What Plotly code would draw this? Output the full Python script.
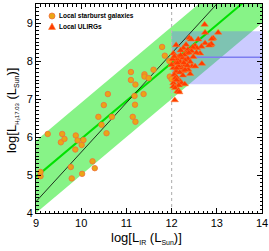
import plotly.graph_objects as go

# ---- data ----
sb_x = [9.10, 9.10, 9.26, 9.55, 9.58, 9.63, 9.77, 9.79, 9.87, 9.88, 9.92, 10.01, 10.02, 10.05,
        10.25, 10.30, 10.38, 10.45, 10.50, 10.56, 10.59, 10.68, 11.14, 11.20, 11.19, 11.18,
        11.38, 11.10, 11.20, 11.10, 11.40, 11.40, 11.49, 11.60, 11.79, 11.85, 11.95, 11.96, 12.00]
sb_y = [4.97, 5.08, 6.08, 5.86, 6.08, 5.95, 5.21, 4.91, 5.67, 6.04, 5.91, 5.79, 5.03, 5.92,
        5.36, 5.18, 6.53, 6.32, 6.84, 6.10, 7.13, 6.53, 6.53, 6.40, 6.85, 7.08,
        7.13, 7.50, 7.38, 7.71, 7.65, 7.59, 7.55, 7.77, 8.37, 8.14, 8.00, 7.59, 7.52]

ul_x = [12.73, 12.74, 13.03, 12.92, 12.39, 12.43, 12.59, 12.89, 12.74, 12.86, 12.88, 12.10,
        12.32, 12.52, 12.66, 12.83, 12.26, 12.56, 12.47, 12.36, 12.20, 12.44, 12.04, 12.33,
        12.38, 12.63, 12.55, 12.28, 12.15, 12.48, 12.24, 12.36, 12.12, 12.19, 12.41, 12.30,
        12.08, 12.67, 12.30, 12.45, 12.52, 12.04, 12.22, 12.15, 12.37, 12.10, 12.26, 12.11,
        12.30, 12.18, 12.41, 12.06, 12.25, 12.11, 12.08, 12.19, 12.04, 12.22, 12.29, 12.11,
        12.16, 12.04, 12.08, 12.15, 12.13, 12.17, 12.07, 12.02, 12.06, 12.00, 12.13, 12.20,
        12.27, 12.35]
ul_y = [8.96, 8.75, 8.75, 8.60, 8.61, 8.57, 8.57, 8.58, 8.47, 8.42, 8.45, 8.42,
        8.43, 8.40, 8.38, 8.41, 8.34, 8.34, 8.36, 8.30, 8.28, 8.26, 8.20, 8.20,
        8.22, 8.20, 8.22, 8.16, 8.11, 8.11, 8.08, 8.06, 8.04, 7.98, 7.98, 8.02,
        7.94, 7.93, 7.90, 7.86, 7.86, 7.82, 7.82, 7.87, 7.77, 7.73, 7.74, 7.81,
        7.77, 7.70, 7.66, 7.64, 7.62, 7.57, 7.55, 7.46, 7.42, 7.42, 7.39, 7.50,
        7.36, 7.33, 7.29, 7.23, 7.20, 7.18, 6.97, 8.05, 8.12, 7.90, 7.95, 8.15,
        7.95, 7.88]

band_x = [9.0, 14.0]
band_center = -4.05   # y = x + c
band_upper = -3.10
band_lower = -5.00
oneone_slope = 1.3
oneone_icpt = -7.4
ulirg_box_x = [12.0, 14.2]
ulirg_box_y = [7.39, 8.78]
ulirg_mean = 8.10
x_cut = 12.0

x_range = [9, 14]
y_range = [4, 9.5]
x_ticks = [9, 10, 11, 12, 13, 14]
y_ticks = [4, 5, 6, 7, 8, 9]

FONT = 'Liberation Sans, Arial'

fig = go.Figure()

# green band
bx = band_x + band_x[::-1]
by = [v + band_upper for v in band_x] + [v + band_lower for v in band_x[::-1]]
fig.add_trace(go.Scatter(x=bx, y=by, fill='toself', mode='lines', line=dict(width=0),
                         fillcolor='rgb(135,243,135)', hoverinfo='skip', showlegend=False))
# blue box
fig.add_trace(go.Scatter(x=[ulirg_box_x[0], ulirg_box_x[1], ulirg_box_x[1], ulirg_box_x[0], ulirg_box_x[0]],
                         y=[ulirg_box_y[0], ulirg_box_y[0], ulirg_box_y[1], ulirg_box_y[1], ulirg_box_y[0]],
                         fill='toself', mode='lines', line=dict(width=0),
                         fillcolor='rgba(110,110,255,0.36)', hoverinfo='skip', showlegend=False))
fig.add_trace(go.Scatter(x=ulirg_box_x, y=[ulirg_mean, ulirg_mean], mode='lines',
                         line=dict(color='rgb(125,125,240)', width=1.5), showlegend=False))
# vertical dotted line
fig.add_trace(go.Scatter(x=[x_cut, x_cut], y=y_range, mode='lines',
                         line=dict(color='rgb(185,185,185)', width=1.2, dash='dot'), showlegend=False))
# center green line
fig.add_trace(go.Scatter(x=band_x, y=[v + band_center for v in band_x], mode='lines',
                         line=dict(color='rgb(0,225,0)', width=2), showlegend=False))
# black line
fig.add_trace(go.Scatter(x=band_x, y=[oneone_slope * v + oneone_icpt for v in band_x], mode='lines',
                         line=dict(color='black', width=0.8), showlegend=False))
# points
fig.add_trace(go.Scatter(x=sb_x, y=sb_y, mode='markers', name='Local starburst galaxies',
                         marker=dict(symbol='circle', size=5.5, color='rgb(235,165,20)',
                                     line=dict(color='rgb(240,110,60)', width=0.8)), showlegend=False))
fig.add_trace(go.Scatter(x=ul_x, y=ul_y, mode='markers', name='Local ULIRGs',
                         marker=dict(symbol='triangle-up', size=6.5, color='rgb(255,60,0)',
                                     line=dict(color='rgb(255,120,40)', width=0.5)), showlegend=False))

axis_common = dict(showline=True, linecolor='black', linewidth=1, mirror='allticks',
                   ticks='inside', ticklen=5, tickwidth=1, tickcolor='black',
                   showgrid=False, zeroline=False, automargin=False,
                   tickfont=dict(family=FONT, size=11, color='black'),
                   minor=dict(ticks='inside', ticklen=2.5, tickwidth=1, tickcolor='black', dtick=0.1))

fig.update_xaxes(range=x_range, tickvals=x_ticks, **axis_common)
fig.update_yaxes(range=y_range, tickvals=y_ticks, **axis_common)

# axis titles
title_font = dict(family=FONT, size=13, color='black')
fig.add_annotation(x=0.487, y=-0.12, xref='paper', yref='paper', xanchor='center', yanchor='middle',
                   text='log[L<sub><span style="font-size:7px">IR</span></sub> (L<sub><span style="font-size:7px">Sun</span></sub>)]',
                   showarrow=False, font=title_font)
fig.add_annotation(x=-0.106, y=0.488, xref='paper', yref='paper', xanchor='center', yanchor='middle',
                   textangle=-90,
                   text='log[L<sub><span style="font-size:6px">H₂17.03</span></sub> (L<sub><span style="font-size:7px">Sun</span></sub>)]',
                   showarrow=False, font=title_font)

# legend (drawn manually)
leg_font = dict(family=FONT, size=6.5, color='black')
fig.add_shape(type='circle', xref='paper', yref='paper', xsizemode='pixel', ysizemode='pixel',
              xanchor=0.0708, yanchor=0.9426, x0=-3, x1=3, y0=-3, y1=3,
              fillcolor='rgb(235,165,20)', line=dict(color='rgb(240,110,60)', width=0.8))
fig.add_shape(type='path', xref='paper', yref='paper', xsizemode='pixel', ysizemode='pixel',
              xanchor=0.0708, yanchor=0.8923, path='M-3.5,-3 L3.5,-3 L0,3.5 Z',
              fillcolor='rgb(255,60,0)', line=dict(color='rgb(255,120,40)', width=0.5))
fig.add_annotation(x=0.093, y=0.9426, xref='paper', yref='paper', xanchor='left', yanchor='middle',
                   text='<b>Local starburst galaxies</b>', showarrow=False, font=leg_font)
fig.add_annotation(x=0.093, y=0.8923, xref='paper', yref='paper', xanchor='left', yanchor='middle',
                   text='<b>Local ULIRGs</b>', showarrow=False, font=leg_font)

fig.update_layout(width=269, height=251, margin=dict(l=36, r=7, t=4, b=38),
                  plot_bgcolor='white', paper_bgcolor='white', showlegend=False)

fig.write_html('out.html', config={'displayModeBar': False},
               post_script="document.body.style.margin='0';document.body.style.overflow='hidden';")
